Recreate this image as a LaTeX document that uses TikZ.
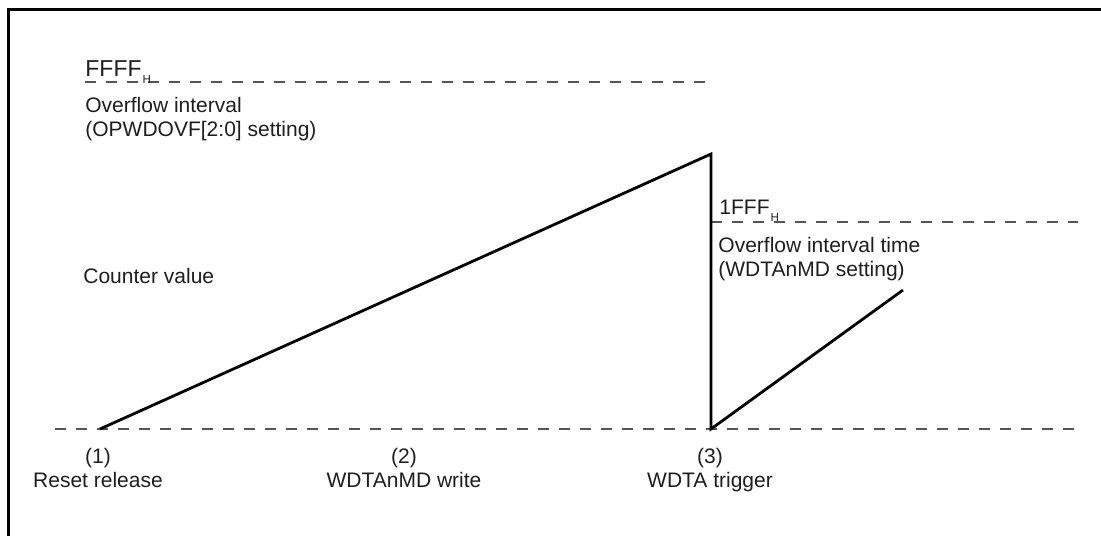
\documentclass[tikz,border=0pt]{standalone}
\usepackage{fontspec}
\setmainfont{Liberation Sans}
\usepackage{xcolor}
\usetikzlibrary{positioning,calc}
\definecolor{WDText}{HTML}{1E1E1E}
\definecolor{WDDash}{HTML}{555555}
\newcommand{\subH}{\kern0.5pt\raisebox{-3.8pt}{\fontsize{5.8}{6}\selectfont H}}

\begin{document}
\begin{tikzpicture}[x=0.5pt,y=-0.5pt,
  frame/.style={line width=1.5pt,black},
  ramp/.style={line width=1.4pt,black,line join=miter},
  lvl/.style={line width=0.7pt,WDDash,dash pattern=on 5.5pt off 5pt},
  txt/.style={inner sep=0pt,font=\fontsize{10.5}{12}\selectfont,text=WDText},
  evt/.style={txt,align=center,anchor=north}
]
  \useasboundingbox (0,0) rectangle (1101,536);

  % Frame
  \draw[frame] (1101,9) -- (8,9) -- (8,536);

  % Levels
  \coordinate (ffffL) at (85,82);   \coordinate (ffffR) at (711,82);
  \coordinate (lfffL) at (711,222); \coordinate (lfffR) at (1078,222);
  \coordinate (zeroL) at (55,429);  \coordinate (zeroR) at (1078,429);
  \draw[lvl] (ffffL) -- (ffffR);
  \draw[lvl] (lfffL) -- (lfffR);
  \draw[lvl] (zeroL) -- (zeroR);

  % Counter
  \coordinate (rel)  at (100,429);
  \coordinate (peak) at (711,154);
  \coordinate (trig) at (711,429);
  \coordinate (tip)  at (903,290);
  \draw[ramp] (rel) -- (peak) -- (trig) -- (tip);

  % Labels
  \node[txt,anchor=base west,font=\fontsize{11.5}{12}\selectfont] (ffff) at (85,76) {FFFF\subH};
  \node[txt,anchor=north west,align=left] (ovf) at (85,97)
    {Overflow interval\\(OPWDOVF[2:0] setting)};
  \node[txt,anchor=base west] (lfff) at (719,214) {1FFF\subH};
  \node[txt,anchor=north west,align=left] (ovt) at (718,237)
    {Overflow interval time\\(WDTAnMD setting)};
  \node[txt,anchor=base west] (cnt) at (83,283) {Counter value};

  % Events
  \node[evt] (e1) at (98,448)  {(1)\\Reset release};
  \node[evt] (e2) at (404,448) {(2)\\WDTAnMD write};
  \node[evt] (e3) at (710,448) {(3)\\WDTA trigger};
\end{tikzpicture}
\end{document}
